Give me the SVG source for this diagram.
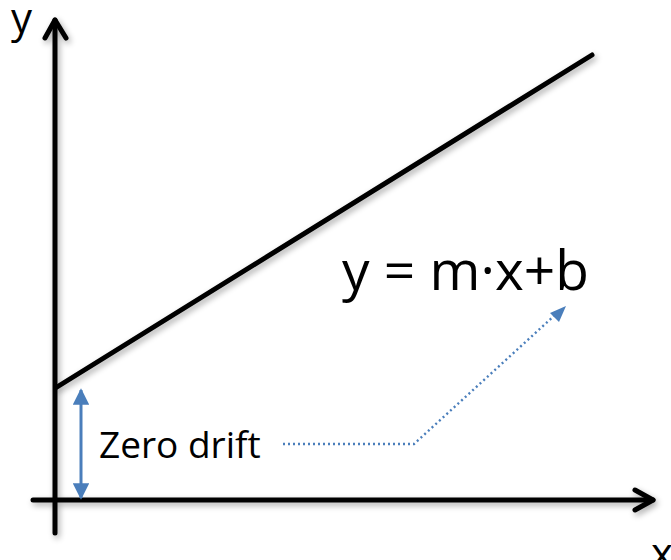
<svg xmlns="http://www.w3.org/2000/svg" width="671" height="560" viewBox="0 0 671 560">
<defs>
<filter id="sh" x="-10%" y="-10%" width="120%" height="120%">
<feGaussianBlur in="SourceAlpha" stdDeviation="3"/>
<feOffset dx="2" dy="3" result="b"/>
<feComponentTransfer><feFuncA type="linear" slope="0.35"/></feComponentTransfer>
<feMerge><feMergeNode/><feMergeNode in="SourceGraphic"/></feMerge>
</filter>
<marker id="bh" viewBox="0 0 10 10" refX="9" refY="5" markerWidth="5.5" markerHeight="5.5" orient="auto-start-reverse" markerUnits="strokeWidth">
<path d="M0,0 L10,5 L0,10 z" fill="#4a7ebb"/>
</marker>
</defs>
<style>
.ax{stroke:#000;stroke-width:5;fill:none;stroke-linecap:round;stroke-linejoin:round}
.t{font-family:"Open Sans","Liberation Sans",sans-serif;fill:#000}
.blue{stroke:#4a7ebb;fill:none}
</style>
<rect width="671" height="560" fill="#fff"/>
<g id="axes" filter="url(#sh)">
<path class="ax" d="M55,533 V20"/>
<path class="ax" d="M45,38 L55,20 L66,38"/>
<path class="ax" d="M33,500 H653"/>
<path class="ax" d="M635,490 L653,500 L635,510"/>
</g>
<g id="line" filter="url(#sh)">
<path class="ax" d="M57,387 L592,55"/>
</g>
<g id="labels">
<text class="t" x="11" y="33" font-size="42">y</text>
<text class="t" x="651" y="568" font-size="42">x</text>
<text class="t" x="342" y="290" font-size="55">y = m·x+b</text>
<text class="t" x="99" y="458" font-size="37">Zero drift</text>
</g>
<g id="connectors">
<path class="blue" stroke-width="3" d="M81,390 V498" marker-start="url(#bh)" marker-end="url(#bh)"/>
<path class="blue" stroke-width="2.4" stroke-dasharray="2 3" d="M283,444 H414 L555,315"/>
<path d="M566,306 L550,313 L559,322 z" fill="#4a7ebb"/>
</g>
</svg>
